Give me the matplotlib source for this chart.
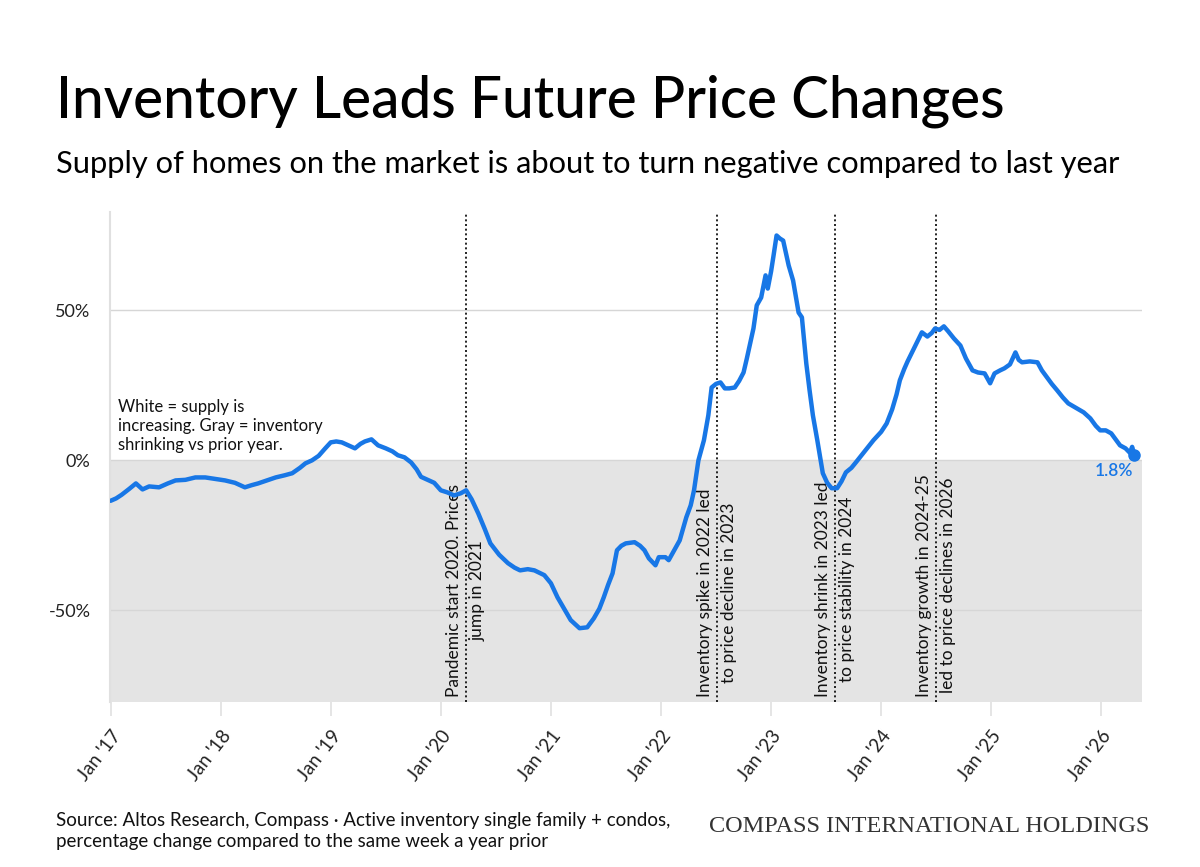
import matplotlib
matplotlib.use("Agg")
import matplotlib.pyplot as plt

# ---- data ----
dates = [2017.00, 2017.05, 2017.10, 2017.17, 2017.23, 2017.29, 2017.35, 2017.44, 2017.52, 2017.59,
         2017.68, 2017.77, 2017.86, 2017.95, 2018.04, 2018.13, 2018.22, 2018.28, 2018.34, 2018.42,
         2018.50, 2018.58, 2018.65, 2018.72, 2018.77, 2018.83, 2018.89, 2018.95, 2019.00, 2019.05,
         2019.10, 2019.16, 2019.22, 2019.27, 2019.31, 2019.37, 2019.43, 2019.50, 2019.56, 2019.61,
         2019.67, 2019.73, 2019.78, 2019.82, 2019.88, 2019.94, 2020.00, 2020.06, 2020.12, 2020.18,
         2020.23, 2020.28, 2020.34, 2020.40, 2020.45, 2020.53, 2020.61, 2020.67, 2020.72, 2020.79,
         2020.85, 2020.94, 2021.00, 2021.06, 2021.12, 2021.18, 2021.26, 2021.33, 2021.39, 2021.44,
         2021.48, 2021.52, 2021.56, 2021.60, 2021.64, 2021.68, 2021.76, 2021.81, 2021.85, 2021.89,
         2021.95, 2021.98, 2022.04, 2022.07, 2022.12, 2022.17, 2022.23, 2022.27, 2022.30, 2022.34,
         2022.39, 2022.43, 2022.46, 2022.50, 2022.54, 2022.58, 2022.62, 2022.67, 2022.71, 2022.75,
         2022.78, 2022.81, 2022.84, 2022.87, 2022.91, 2022.95, 2022.97, 2023.00, 2023.02, 2023.05,
         2023.08, 2023.11, 2023.13, 2023.16, 2023.20, 2023.25, 2023.28, 2023.32, 2023.35, 2023.38,
         2023.42, 2023.47, 2023.51, 2023.55, 2023.60, 2023.64, 2023.68, 2023.73, 2023.77, 2023.85,
         2023.93, 2024.00, 2024.05, 2024.10, 2024.14, 2024.17, 2024.21, 2024.24, 2024.30, 2024.37,
         2024.42, 2024.46, 2024.49, 2024.53, 2024.57, 2024.61, 2024.66, 2024.72, 2024.77, 2024.83,
         2024.88, 2024.94, 2024.99, 2025.03, 2025.08, 2025.12, 2025.17, 2025.22, 2025.25, 2025.28,
         2025.35, 2025.42, 2025.46, 2025.50, 2025.55, 2025.60, 2025.65, 2025.70, 2025.78, 2025.84,
         2025.90, 2025.95, 2025.99, 2026.04, 2026.09, 2026.13, 2026.17, 2026.22, 2026.26, 2026.28,
         2026.30]

yoy_change = [-13.5, -12.7, -11.5, -9.5, -7.7, -9.7, -8.7, -9.0, -7.7, -6.7,
              -6.5, -5.7, -5.7, -6.2, -6.7, -7.5, -9.0, -8.3, -7.7, -6.7,
              -5.7, -5.0, -4.3, -2.5, -1.0, 0.0, 1.5, 4.0, 6.0, 6.3,
              6.0, 5.0, 4.0, 5.5, 6.3, 7.0, 5.0, 4.0, 3.0, 1.7,
              1.0, -0.7, -3.0, -5.5, -6.5, -7.5, -10.0, -10.7, -11.7, -11.0,
              -10.0, -13.0, -17.7, -23.0, -27.7, -31.5, -34.3, -35.8, -36.7, -36.3,
              -36.7, -38.3, -41.0, -45.7, -49.5, -53.3, -56.0, -55.7, -52.7, -49.5,
              -45.7, -41.5, -37.7, -30.0, -28.5, -27.7, -27.3, -28.5, -30.0, -32.7,
              -35.0, -32.3, -32.3, -33.3, -30.0, -26.7, -19.0, -15.0, -10.0, 0.0,
              6.7, 15.0, 24.3, 25.5, 26.0, 24.0, 24.0, 24.3, 26.5, 29.3,
              34.0, 39.0, 44.0, 51.7, 54.3, 61.7, 57.3, 63.0, 67.7, 75.0,
              74.0, 73.3, 70.0, 65.0, 60.0, 49.3, 47.7, 32.3, 23.3, 15.0,
              6.7, -4.3, -7.5, -9.3, -9.3, -7.0, -4.0, -2.5, -0.7, 3.0,
              6.7, 9.5, 12.3, 17.0, 22.0, 26.7, 30.5, 33.0, 37.5, 42.7,
              41.3, 42.5, 44.0, 43.5, 44.7, 43.0, 40.7, 38.3, 34.0, 30.0,
              29.3, 29.0, 25.7, 29.0, 30.0, 30.7, 32.0, 36.0, 33.5, 32.7,
              33.0, 32.7, 30.0, 28.0, 25.5, 23.3, 21.0, 19.0, 17.3, 16.0,
              14.0, 11.5, 10.0, 10.0, 9.0, 7.0, 5.0, 4.0, 2.5, 4.5,
              1.8]

tick_years = [2017, 2018, 2019, 2020, 2021, 2022, 2023, 2024, 2025, 2026]
tick_labels = ["Jan '17", "Jan '18", "Jan '19", "Jan '20", "Jan '21",
               "Jan '22", "Jan '23", "Jan '24", "Jan '25", "Jan '26"]
y_ticks = [-50, 0, 50]
y_tick_labels = ["-50%", "0%", "50%"]

event_dates = [2020.23, 2022.51, 2023.58, 2024.50]
event_notes = ["Pandemic start 2020. Prices\njump in 2021",
               "Inventory spike in 2022 led\nto price decline in 2023",
               "Inventory shrink in 2023 led\nto price stability in 2024",
               "Inventory growth in 2024-25\nled to price declines in 2026"]

# ---- styling ----
FONT = "Lato"
BLUE = "#1877e6"
plt.rcParams["font.family"] = [FONT, "DejaVu Sans"]

fig = plt.figure(figsize=(12, 8.67), dpi=100)
ax = fig.add_axes([0.0917, 0.190, 0.860, 0.565])

ymin, ymax = -80.7, 82.7
xmin, xmax = 2016.995, 2026.37
ax.set_xlim(xmin, xmax)
ax.set_ylim(ymin, ymax)

# gray zone below zero
ax.axhspan(ymin, 0, color="#e4e4e4", zorder=0, lw=0)

# gridlines
for yv in y_ticks:
    ax.axhline(yv, color="#d6d6d6", lw=1.0, zorder=1)

# vertical event lines & notes
for xd, note in zip(event_dates, event_notes):
    ax.axvline(xd, color="black", lw=1.2, ls=(0, (1.2, 1.6)), zorder=2)
    ax.text(xd, ymin + 1.8, note, rotation=90, ha="center", va="bottom",
            fontsize=12.5, color="#111111", linespacing=1.6, zorder=3)

# main line
ax.plot(dates, yoy_change, color=BLUE, lw=3.2, solid_joinstyle="round",
        solid_capstyle="round", zorder=4)
ax.plot([dates[-1]], [yoy_change[-1]], "o", color=BLUE, ms=8, zorder=5)
ax.text(dates[-1] - 0.01, yoy_change[-1] - 2.6, f"{yoy_change[-1]:.1f}%",
        color=BLUE, fontsize=12.5, ha="right", va="top", fontweight="semibold")

# legend-style note
ax.text(2017.07, 20.5, "White = supply is\nincreasing. Gray = inventory\nshrinking vs prior year.",
        fontsize=12, ha="left", va="top", color="#111111", linespacing=1.25)

# axes styling
for s in ["top", "right", "bottom"]:
    ax.spines[s].set_visible(False)
ax.spines["left"].set_color("#e0e0e0")
ax.spines["left"].set_linewidth(1.5)

ax.set_yticks(y_ticks)
ax.set_yticklabels(y_tick_labels, fontsize=13, color="#222222")
ax.tick_params(axis="y", length=0, pad=14)

ax.set_xticks(tick_years)
ax.set_xticklabels(tick_labels, rotation=52, ha="right", rotation_mode="anchor",
                   fontsize=13.5, color="#222222")
ax.tick_params(axis="x", length=10, color="#e0e0e0", width=1.2, pad=8)

# titles
fig.text(0.047, 0.865, "Inventory Leads Future Price Changes", fontsize=40.8,
         fontweight="medium", color="black", ha="left", va="baseline")
fig.text(0.047, 0.800, "Supply of homes on the market is about to turn negative compared to last year",
         fontsize=22.2, color="black", ha="left", va="baseline")

# footer
fig.text(0.047, 0.020,
         "Source: Altos Research, Compass \u00b7 Active inventory single family + condos,\n"
         "percentage change compared to the same week a year prior",
         fontsize=13.5, color="#111111", ha="left", va="bottom", linespacing=1.25)
fig.text(0.958, 0.035, "COMPASS INTERNATIONAL HOLDINGS",
         family=["Liberation Serif", "DejaVu Serif"], fontsize=17.5,
         color="#333333", ha="right", va="bottom")

fig.savefig("out.png", dpi=100, facecolor="white")
